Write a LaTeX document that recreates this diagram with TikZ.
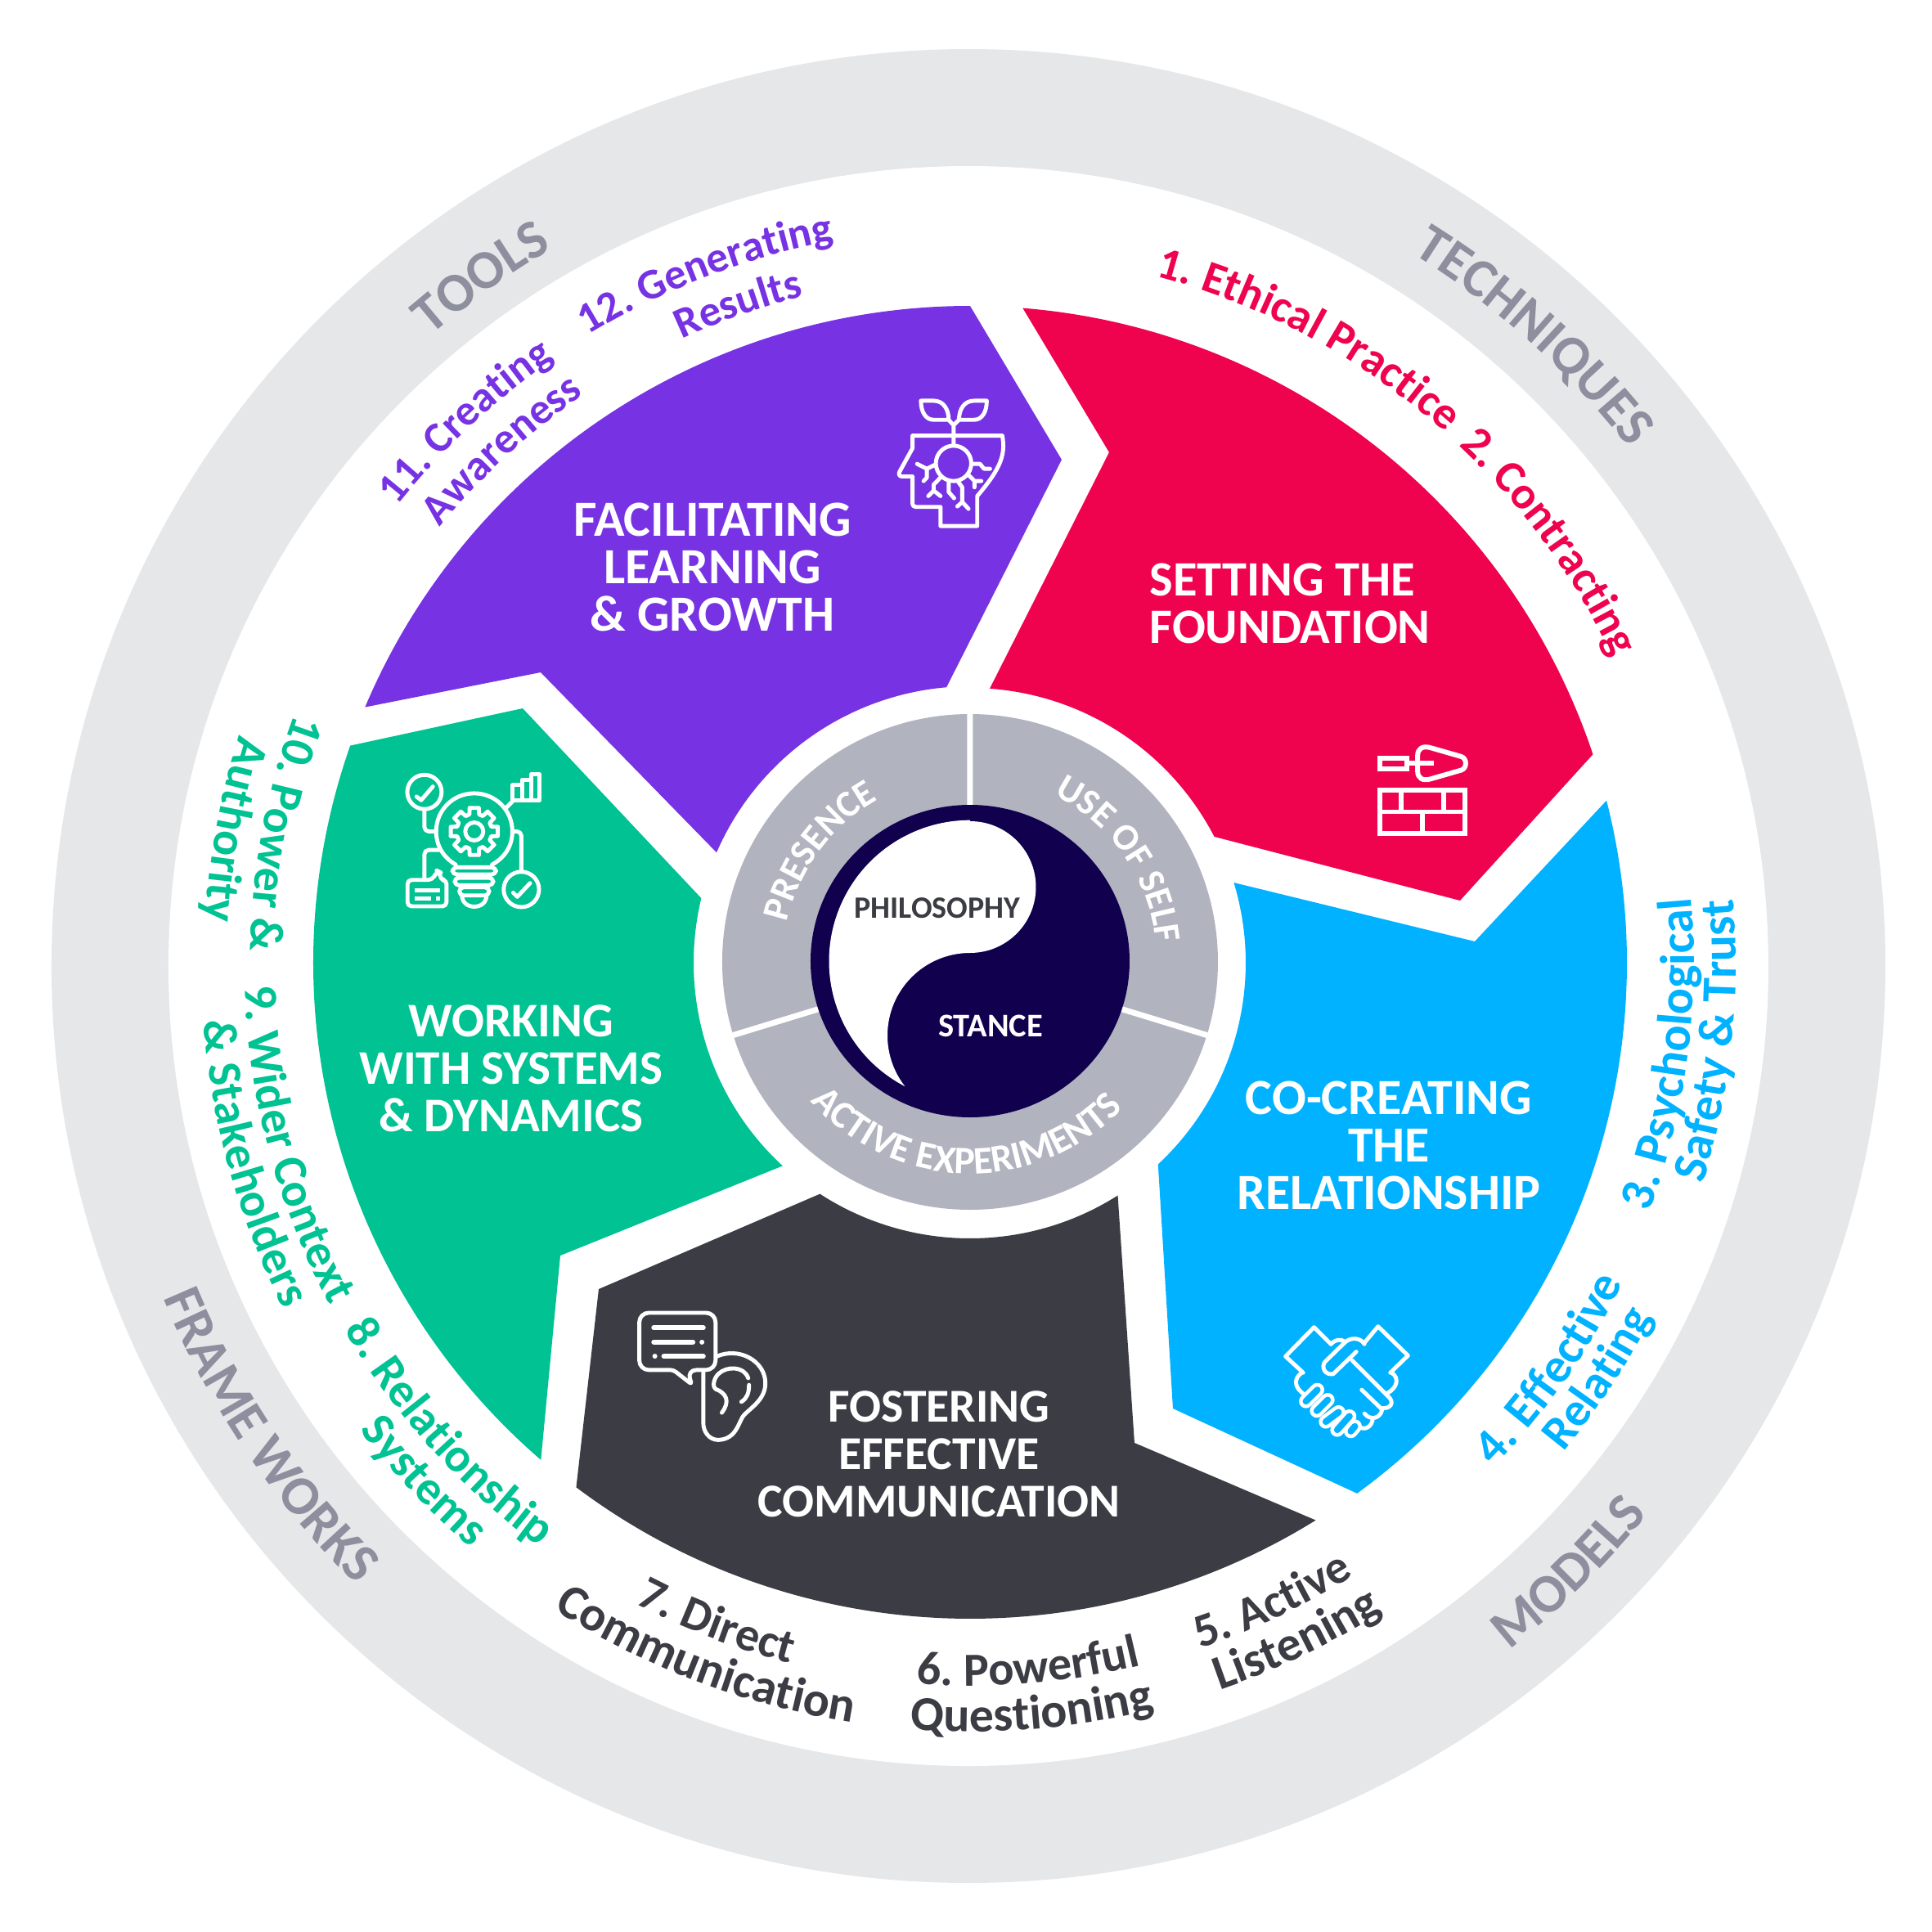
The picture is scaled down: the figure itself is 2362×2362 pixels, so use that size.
\documentclass[tikz,border=0pt]{standalone}
\usepackage{fontspec}
\setmainfont{Carlito}
\usetikzlibrary{decorations.text}
\definecolor{cred}{HTML}{EF034E}
\definecolor{cpurple}{HTML}{7733E3}
\definecolor{cgreen}{HTML}{00C292}
\definecolor{cdark}{HTML}{3C3C44}
\definecolor{cblue}{HTML}{00B2FF}
\definecolor{cring}{HTML}{E6E7E9}
\definecolor{cringtext}{HTML}{8D8F9E}
\definecolor{chub}{HTML}{B1B3BF}
\definecolor{cnavy}{HTML}{10004E}
\newcommand{\ringfont}{\fontsize{19}{19}\selectfont\bfseries}
\newcommand{\widefont}{\fontsize{17}{17}\selectfont\bfseries}
\newcommand{\labelfont}{\fontsize{16.5}{16.5}\selectfont\bfseries}
\newcommand{\redfont}{\fontsize{15.8}{15.8}\selectfont\bfseries}
\newcommand{\smallfont}{\fontsize{15}{15}\selectfont\bfseries}
\newcommand{\hubfont}{\fontsize{13}{13}\selectfont\bfseries}
\newcommand{\cwtext}[5]{\path[decorate,decoration={text along path,text align=center,text color=#2,text={|#1|#5}}] (#4+60:#3) arc[start angle=#4+60,end angle=#4-60,radius=#3];}
\newcommand{\ccwtext}[5]{\path[decorate,decoration={text along path,text align=center,text color=#2,text={|#1|#5}}] (#4-60:#3) arc[start angle=#4-60,end angle=#4+60,radius=#3];}
\tikzset{
  icon/.style={draw=white,line width=1.4pt,line cap=round,line join=round},
  title/.style={text=white,font=\fontsize{#1}{16.5}\selectfont\bfseries,align=center,inner sep=0pt}
}
\begin{document}
\begin{tikzpicture}[x=0.01cm,y=0.01cm]
        \useasboundingbox (-1186,-1185) rectangle (1176,1177);
        \fill[white] (-1186,-1185) rectangle (1176,1177);
        %anello esterno
        \fill[cring] (-2,-4) circle[radius=1121];
        \fill[white] (-2,-4) circle[radius=978];
        %settori
        \fill[cred] (85.4:803) arc[start angle=85.4,end angle=18.5,radius=803] -- (599,76) -- (27.3:336) arc[start angle=27.3,end angle=85.9,radius=336] -- (170,624) -- cycle;
        \fill[cpurple] (90:803) arc[start angle=90,end angle=157.1,radius=803] -- (-525,355) -- (156.5:338) arc[start angle=156.5,end angle=94.9,radius=338] -- (112,615) -- cycle;
        \fill[cgreen] (160.7:803) arc[start angle=160.7,end angle=229.2,radius=803] -- (-501,-358) -- (227.3:338) arc[start angle=227.3,end angle=166.5,radius=338] -- (-547,311) -- cycle;
        \fill[cdark] (233.1:802) arc[start angle=233.1,end angle=301.8,radius=802] -- (201,-587) -- (302.4:337) arc[start angle=302.4,end angle=237,radius=337] -- (-454,-399) -- cycle;
        \fill[cblue] (14.3:803) arc[start angle=14.3,end angle=-53.9,radius=803] -- (248,-545) -- (-47:337) arc[start angle=-47,end angle=16.9,radius=337] -- (617,26) -- cycle;
        %mozzo
        \fill[chub] (0,1) circle[radius=303];
        \draw[white,line width=0.07cm] (0,190) -- (0,304) (-17:185) -- (-17:303) (197:185) -- (197:303);
        \fill[cnavy] (0,2) ellipse[x radius=195,y radius=191];
        \fill[white] (0,173) arc[start angle=90,end angle=-90,radius=80.5] arc[start angle=90,end angle=218,radius=101] arc[start angle=242.5,end angle=90,radius=172.5] -- cycle;
        \node (philosophy) at (-40,67) [inner sep=0pt,text=cdark,font=\fontsize{10.8}{10.8}\selectfont\bfseries]{PHILOSOPHY};
        \node (stance) at (25,-77) [inner sep=0pt,text=white,font=\fontsize{11.5}{11.5}\selectfont\bfseries]{STANCE};
        \cwtext{\hubfont}{white}{229}{143.5}{PRESENCE}
        \cwtext{\hubfont}{white}{229}{34.7}{USE OF SELF}
        \ccwtext{\fontsize{13.5}{13.5}\selectfont\bfseries}{white}{258}{-91.3}{ACTIVE EXPERIMENTS}
        %titoli
        \node (facilitating) at (-315,484) [title=17.6]{FACILITATING\\LEARNING\\\& GROWTH};
        \node (setting) at (219,439) [title=17.2,anchor=west,align=left]{SETTING THE\\FOUNDATION};
        \node (cocreating) at (512,-223) [title=17.6]{CO-CREATING\\THE\\RELATIONSHIP};
        \node (fostering) at (-38,-601) [title=16.4]{FOSTERING\\EFFECTIVE\\COMMUNICATION};
        \node (working) at (-561,-129) [title=16.8]{WORKING\\WITH SYSTEMS\\\& DYNAMICS};
        %anello
        \cwtext{\ringfont}{cringtext}{1022}{48}{TECHNIQUES}
        \cwtext{\ringfont}{cringtext}{1011}{125.5}{TOOLS}
        \ccwtext{\ringfont}{cringtext}{1068}{-45.5}{MODELS}
        \ccwtext{\ringfont}{cringtext}{1068}{214}{FRAME WORKS}
        %etichette
        \cwtext{\redfont}{cred}{870}{61.5}{1. Ethical Practice}
        \cwtext{\redfont}{cred}{870}{36}{2. Contracting}
        \ccwtext{\widefont}{cblue}{885}{-7.5}{3. Psychological}
        \ccwtext{\widefont}{cblue}{936}{-6}{Safety {\&} Trust}
        \ccwtext{\widefont}{cblue}{889}{-35}{4. Effective}
        \ccwtext{\labelfont}{cblue}{940}{-33.5}{Relating}
        \ccwtext{\labelfont}{cdark}{884}{-64.7}{5. Active}
        \ccwtext{\widefont}{cdark}{940}{-64.3}{Listening}
        \ccwtext{\labelfont}{cdark}{884}{-85.3}{6. Powerful}
        \ccwtext{\widefont}{cdark}{940}{-85.3}{Questioning}
        \ccwtext{\labelfont}{cdark}{884}{249}{7. Direct}
        \ccwtext{\widefont}{cdark}{940}{249.2}{Communication}
        \ccwtext{\labelfont}{cgreen}{887}{222}{8. Relationship}
        \ccwtext{\labelfont}{cgreen}{940}{223.5}{Systems}
        \ccwtext{\labelfont}{cgreen}{887}{195}{9. Wider Context}
        \ccwtext{\labelfont}{cgreen}{940}{195.6}{{\&} Stakeholders}
        \ccwtext{\labelfont}{cgreen}{880}{169.4}{10. Power {\&}}
        \ccwtext{\labelfont}{cgreen}{936}{169.8}{Authority}
        \cwtext{\smallfont}{cpurple}{896}{133}{11. Creating}
        \cwtext{\smallfont}{cpurple}{839}{132.4}{Awareness}
        \cwtext{\smallfont}{cpurple}{898}{111}{12. Generating}
        \cwtext{\smallfont}{cpurple}{840}{109.4}{Results}
        %icona testa
        \begin{scope}[shift={(-136,717)},x=0.00333cm,y=-0.00333cm]
            \draw[icon] (197,218) -- (527,218) .. controls (540,290) and (520,340) .. (435,440) -- (435,550) -- (300,550) -- (300,480) -- (210,480) .. controls (202,480) and (197,475) .. (197,468) -- (197,368) -- (158,368) .. controls (148,368) and (145,358) .. (150,350) -- (197,265) -- cycle;
            \draw[icon] (348,255) -- (348,180) -- (330,160) (348,180) -- (368,160);
            \draw[icon] (228,90) -- (275,90) .. controls (310,90) and (330,120) .. (330,160) -- (275,160) .. controls (245,160) and (228,130) .. (228,90) -- cycle;
            \draw[icon] (470,90) -- (423,90) .. controls (388,90) and (368,120) .. (368,160) -- (423,160) .. controls (453,160) and (470,130) .. (470,90) -- cycle;
            \draw[icon] (348,320) circle[radius=65];
            \draw[icon] (280,325) -- (250,340) -- (214,322) (250,340) -- (250,372) -- (238,385);
            \draw[icon] (300,372) -- (275,398) -- (275,420) -- (255,440) (275,420) -- (300,440);
            \draw[icon] (330,385) -- (330,425) -- (350,448);
            \draw[icon] (365,388) -- (380,408) -- (380,462) -- (362,478) (380,462) -- (403,487);
            \draw[icon] (400,360) -- (425,385) -- (450,385) (425,385) -- (425,408);
            \draw[icon] (415,322) -- (445,322) -- (460,340) -- (482,340);
        \end{scope}
        %icona mattoni
        \begin{scope}[shift={(464,297)},x=0.00333cm,y=-0.00333cm]
            \draw[icon,line width=1.7pt,line cap=butt,line join=miter] (110,140) rectangle (210,180);
            \draw[icon,line width=1.7pt,line cap=butt] (210,160) -- (310,160);
            \draw[icon,line width=1.7pt] (250,130) .. controls (250,105) and (270,95) .. (295,102) -- (410,135) .. controls (432,142) and (432,178) .. (410,185) -- (295,218) .. controls (270,225) and (250,215) .. (250,190) -- cycle;
            \draw[icon,line width=1.7pt,line cap=butt,line join=miter] (110,258) rectangle (425,417);
            \draw[icon,line width=1.7pt,line cap=butt] (110,338) -- (425,338) (190,258) -- (190,338) (345,258) -- (345,338) (268,338) -- (268,417);
        \end{scope}
        %icona lampadina
        \begin{scope}[shift={(-716,257)},x=0.00333cm,y=-0.00333cm]
            \draw[icon] (147,145) circle[radius=63];
            \draw[icon] (118,162) -- (135,175) -- (178,125);
            \draw[icon,rounded corners=1.5pt] (147,208) -- (147,290) -- (190,290);
            \draw[icon,line cap=butt] (470,175) rectangle (505,120) (505,175) rectangle (540,100) (540,175) rectangle (570,80);
            \draw[icon] (470,180) -- (445,205);
            \draw[icon] (262,412) .. controls (215,385) and (190,340) .. (190,290) .. controls (190,212) and (252,150) .. (330,150) .. controls (408,150) and (470,212) .. (470,290) .. controls (470,340) and (445,385) .. (395,412);
            \draw[icon,rounded corners=1.5pt] (250,422) rectangle (410,448) (258,460) rectangle (400,488) (275,495) rectangle (385,525);
            \draw[icon] (285,525) .. controls (285,580) and (375,580) .. (375,525);
            \begin{scope}[shift={(330,290)}]
                \draw[icon] (0,0) circle[radius=33];
                \foreach \a in {0,45,...,315}{
                    \draw[icon] (\a-11:88) -- (\a+11:88) -- (\a+16:65) -- (\a+29:65) -- (\a+34:88);
                }
            \end{scope}
            \draw[icon,rounded corners=1.4pt] (85,468) -- (175,468) -- (195,435) -- (205,440) -- (205,468) -- (228,468) -- (228,565) -- (85,565) -- cycle;
            \draw[icon,line cap=butt] (110,505) -- (205,505) (110,535) -- (170,535) (190,535) -- (205,535);
            \draw[icon,rounded corners=1.5pt] (147,468) -- (147,358) -- (205,358);
            \draw[icon] (503,503) circle[radius=65];
            \draw[icon] (473,515) -- (488,530) -- (535,480);
            \draw[icon,rounded corners=1.5pt] (503,438) -- (503,290) -- (470,290);
        \end{scope}
        %icona stretta di mano
        \begin{scope}[shift={(354,-423)},x=0.00333cm,y=-0.00333cm]
            \draw[icon] (160,235) -- (95,175) -- (200,68) -- (262,130);
            \draw[icon] (385,125) -- (435,65) -- (545,172) -- (480,235);
            \draw[icon] (155,235) .. controls (125,255) and (125,290) .. (165,315);
            \draw[icon] (485,235) .. controls (515,255) and (505,290) .. (470,310);
            \draw[icon] (262,130) .. controls (280,112) and (295,110) .. (315,122);
            \draw[icon] (385,130) .. controls (370,105) and (335,105) .. (315,122) -- (240,195) .. controls (225,215) and (240,245) .. (270,240) -- (355,158);
            \draw[icon] (340,190) -- (470,320) .. controls (500,345) and (480,370) .. (445,365);
            \draw[icon] (375,298) -- (450,370) .. controls (445,400) and (410,415) .. (385,385);
            \draw[icon] (415,410) .. controls (405,445) and (375,445) .. (360,430);
            \foreach \xa/\ya/\xb/\yb in {335/450/350/432,285/445/330/395,243/415/290/380,210/375/250/335,170/340/212/298}{
                \draw[white,line width=1.7mm,line cap=round] (\xa,\ya) -- (\xb,\yb);
                \draw[cblue,line width=0.8mm,line cap=round] (\xa,\ya) -- (\xb,\yb);
            }
        \end{scope}
        %icona orecchio
        \begin{scope}[shift={(-426,-413)},x=0.00333cm,y=-0.00333cm]
            \draw[icon] (350,205) .. controls (430,170) and (525,220) .. (528,300) .. controls (530,360) and (480,390) .. (450,420) .. controls (430,440) and (425,510) .. (355,512) .. controls (320,512) and (300,480) .. (300,450) -- (300,265);
            \draw[icon] (465,285) .. controls (450,240) and (385,240) .. (355,270) .. controls (335,290) and (335,320) .. (345,325) .. controls (385,340) and (400,370) .. (368,412);
            \draw[icon] (468,310) .. controls (468,340) and (460,360) .. (440,372);
            \draw[icon,rounded corners=3.3pt] (65,150) -- (65,45) -- (345,45) -- (345,255) -- (240,255) [rounded corners=1pt] -- (258,308) -- (190,255) [rounded corners=3.3pt] -- (65,255) -- cycle;
            \draw[icon,line width=1.7pt] (118,100) -- (300,100) (118,152) -- (262,152) (295,152) -- (295.1,152) (122,205) -- (122.1,205) (155,205) -- (300,205);
        \end{scope}
    \end{tikzpicture}
\end{document}
